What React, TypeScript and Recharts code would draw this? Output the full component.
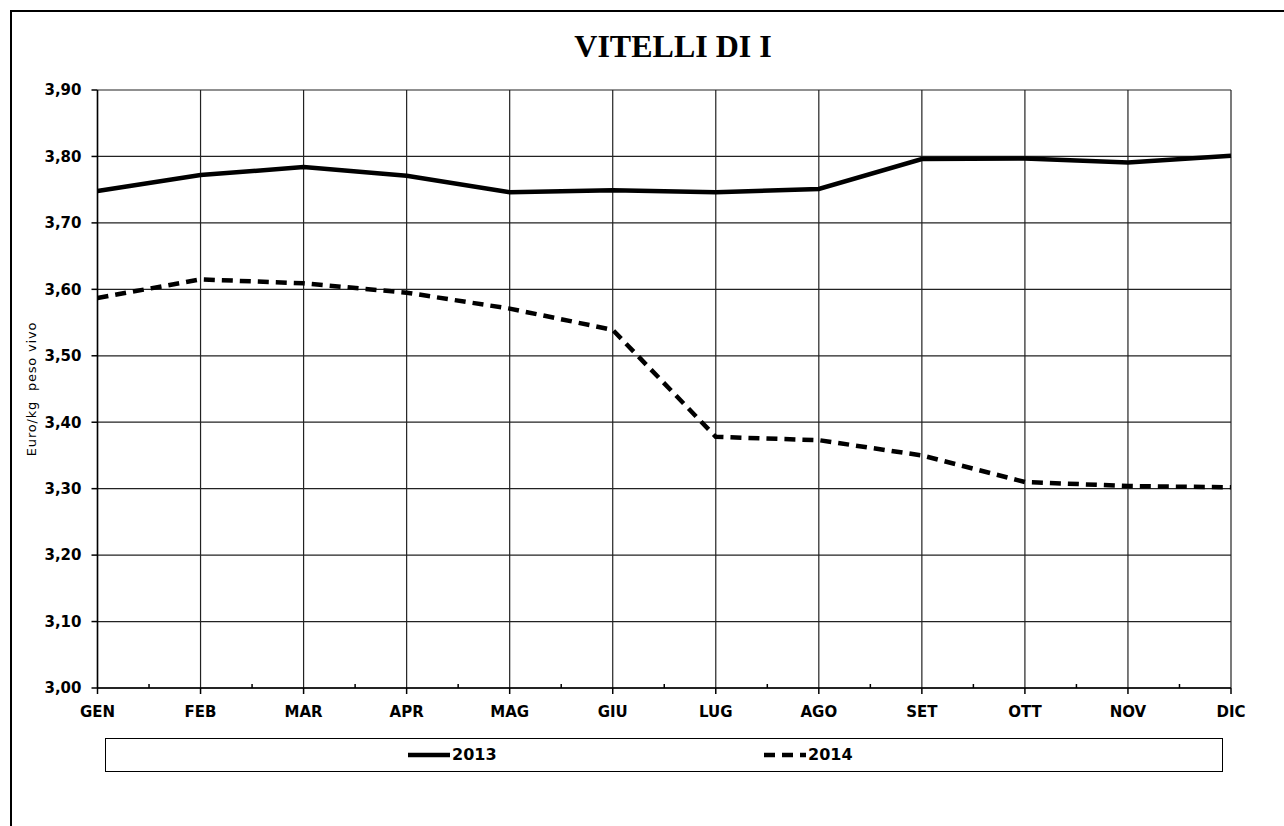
import { LineChart, Line, XAxis, YAxis, CartesianGrid, Legend } from 'recharts';

const MONTHS = ['GEN', 'FEB', 'MAR', 'APR', 'MAG', 'GIU', 'LUG', 'AGO', 'SET', 'OTT', 'NOV', 'DIC'];
const SERIES_2013 = [3.748, 3.772, 3.784, 3.771, 3.746, 3.749, 3.746, 3.751, 3.796, 3.797, 3.791, 3.801];
const SERIES_2014 = [3.587, 3.615, 3.609, 3.595, 3.571, 3.539, 3.378, 3.373, 3.350, 3.310, 3.304, 3.302];
const Y_TICKS = [3.0, 3.1, 3.2, 3.3, 3.4, 3.5, 3.6, 3.7, 3.8, 3.9];

const data = MONTHS.map((month, i) => ({
  month,
  y2013: SERIES_2013[i],
  y2014: SERIES_2014[i],
}));

const AXIS_FONT = '"DejaVu Sans", Verdana, sans-serif';
const DASH = '11 7';

const MonthTick = (props: any) => {
  const { x, y, payload, index, width, visibleTicksCount } = props;
  const axisY = y - 18;
  const step = width && visibleTicksCount > 1 ? width / (visibleTicksCount - 1) : 103;
  return (
    <g>
      <line x1={x} x2={x} y1={axisY} y2={axisY + 6} stroke="#000" strokeWidth={1.5} />
      {index < visibleTicksCount - 1 && (
        <line x1={x + step / 2} x2={x + step / 2} y1={axisY} y2={axisY - 4} stroke="#000" strokeWidth={1.5} />
      )}
      <text
        x={x}
        y={y}
        dy="0.71em"
        textAnchor="middle"
        fill="#000"
        fontFamily={AXIS_FONT}
        fontWeight="bold"
        fontSize={15}
      >
        {payload.value}
      </text>
    </g>
  );
};

const YLabel = (props: any) => {
  const vb = props.viewBox || { x: 10, y: 90, width: 87.5, height: 598 };
  const cx = vb.x + 21;
  const cy = vb.y + vb.height / 2;
  return (
    <text
      x={cx}
      y={cy}
      transform={`rotate(-90, ${cx}, ${cy})`}
      textAnchor="middle"
      dominantBaseline="central"
      fontFamily='"DejaVu Sans", sans-serif'
      fontSize={13}
      letterSpacing={0.8}
      fill="#000"
    >
      {'Euro/kg\u00A0\u00A0peso vivo'}
    </text>
  );
};

const LegendBox = () => (
  <div
    style={{
      position: 'relative',
      width: 1118,
      height: 34,
      boxSizing: 'border-box',
      border: '1.5px solid #000',
      background: '#fff',
      fontFamily: AXIS_FONT,
      fontWeight: 'bold',
      fontSize: 16,
      color: '#000',
    }}
  >
    <div style={{ position: 'absolute', left: 300, top: 6, display: 'flex', alignItems: 'center' }}>
      <svg width={46} height={10}>
        <line x1={2} x2={44} y1={5} y2={5} stroke="#000" strokeWidth={4.5} />
      </svg>
      <span style={{ lineHeight: '20px' }}>2013</span>
    </div>
    <div style={{ position: 'absolute', left: 656, top: 6, display: 'flex', alignItems: 'center' }}>
      <svg width={46} height={10}>
        <line x1={2} x2={44} y1={5} y2={5} stroke="#000" strokeWidth={4.5} strokeDasharray={DASH} />
      </svg>
      <span style={{ lineHeight: '20px' }}>2014</span>
    </div>
  </div>
);

export default function App() {
  return (
    <div
      style={{
        position: 'absolute',
        left: 0,
        top: 0,
        width: 1284,
        height: 826,
        overflow: 'hidden',
        background: '#fff',
      }}
    >
      <div
        style={{
          position: 'absolute',
          left: 10,
          top: 10,
          width: 1400,
          height: 1000,
          borderLeft: '2px solid #000',
          borderTop: '2px solid #000',
        }}
      />
      <div
        style={{
          position: 'absolute',
          left: 0,
          top: 30,
          width: 1346,
          textAlign: 'center',
          fontFamily: '"Liberation Serif", "Times New Roman", serif',
          fontWeight: 'bold',
          fontSize: 32,
          lineHeight: '32px',
          color: '#000',
        }}
      >
        VITELLI DI I
      </div>
      <div style={{ position: 'absolute', left: 0, top: 0 }}>
        <LineChart width={1284} height={826} data={data} margin={{ top: 90, right: 53, left: 10, bottom: 108 }}>
          <CartesianGrid stroke="#222" strokeWidth={1.2} />
          <XAxis
            dataKey="month"
            interval={0}
            height={30}
            tickSize={6}
            tickMargin={12}
            tickLine={false}
            axisLine={{ stroke: '#000', strokeWidth: 1.5 }}
            tick={<MonthTick />}
          />
          <YAxis
            width={87.5}
            domain={[3.0, 3.9]}
            ticks={Y_TICKS}
            interval={0}
            tickSize={6}
            tickMargin={10}
            tickFormatter={(v: number) => v.toFixed(2).replace('.', ',')}
            tick={{ fill: '#000', fontFamily: AXIS_FONT, fontWeight: 'bold', fontSize: 15 }}
            tickLine={{ stroke: '#000', strokeWidth: 1.5 }}
            axisLine={{ stroke: '#000', strokeWidth: 1.5 }}
            label={YLabel}
          />
          <Legend
            layout="horizontal"
            verticalAlign="middle"
            align="center"
            wrapperStyle={{ left: 105, top: 738, width: 1118, height: 34 }}
            content={<LegendBox />}
          />
          <Line
            dataKey="y2013"
            name="2013"
            stroke="#000"
            strokeWidth={4.5}
            dot={false}
            activeDot={false}
            isAnimationActive={false}
          />
          <Line
            dataKey="y2014"
            name="2014"
            stroke="#000"
            strokeWidth={4.5}
            strokeDasharray={DASH}
            dot={false}
            activeDot={false}
            isAnimationActive={false}
          />
        </LineChart>
      </div>
    </div>
  );
}
